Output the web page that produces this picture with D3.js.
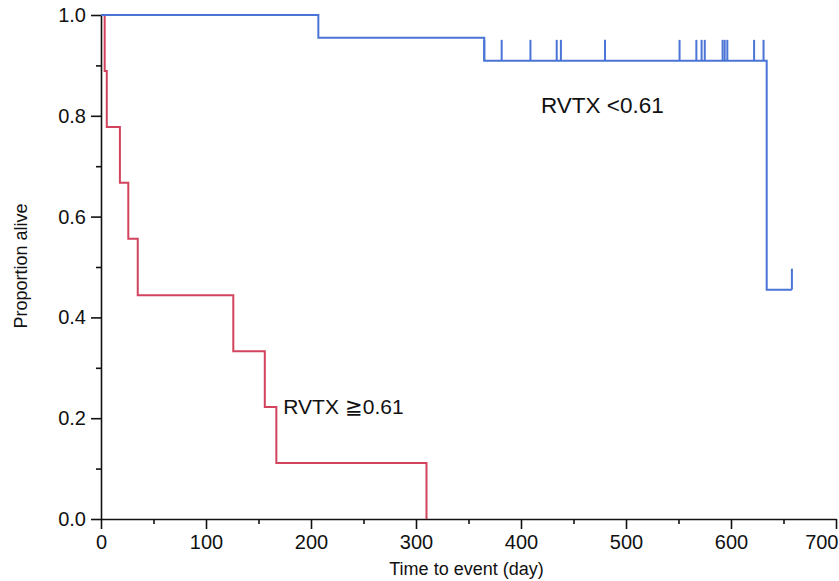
<!DOCTYPE html>
<html>
<head>
<meta charset="utf-8">
<script src="https://cdn.jsdelivr.net/npm/d3@7"></script>
<style>
  body { margin: 0; background: #fff; }
  svg text { font-family: "Liberation Sans", Arial, Helvetica, sans-serif; fill: #111; }
</style>
</head>
<body>
<svg></svg>
<script>
// data
const redTimes = [0, 3.5, 5.5, 18, 26, 35, 126, 156, 167, 310];
const redSurv = [1, 0.889, 0.778, 0.667, 0.556, 0.444, 0.333, 0.222, 0.111, 0];

const blueTimes = [0, 207, 365, 634, 658];
const blueSurv = [1, 0.955, 0.909, 0.455, 0.455];
const blueCensor = [365, 381.6, 409, 434, 438, 480, 551, 567, 572, 575, 592, 594, 596.5, 622, 631];
const blueLastCensor = 658;

const xTicks = [0, 100, 200, 300, 400, 500, 600, 700];
const xMinor = [50, 150, 250, 350, 450, 550, 650];
const yTicks = [0, 0.2, 0.4, 0.6, 0.8, 1.0];
const yMinor = [0.1, 0.3, 0.5, 0.7, 0.9];

const labels = [
  { text: "RVTX <0.61", t: 419, s: 0.806 },
  { text: "RVTX \u22670.61", t: 173.6, s: 0.208 }
];

const width = 839, height = 581;
const mLeft = 101, mRight = 836, mTop = 15, mBottom = 519;

const blue = "#4a74d6";
const red = "#d2435d";

const svg = d3.select("svg").attr("width", width).attr("height", height);

const x = d3.scaleLinear().domain([0, 700]).range([mLeft, mRight]);
const y = d3.scaleLinear().domain([0, 1]).range([mBottom, mTop]);

// minor ticks
svg.append("g")
  .attr("transform", `translate(0,${mBottom})`)
  .call(d3.axisBottom(x).tickValues(xMinor).tickSize(5).tickFormat(""))
  .call(g => g.select(".domain").remove())
  .selectAll("line").attr("stroke", "#111").attr("stroke-width", 1.6);

svg.append("g")
  .attr("transform", `translate(${mLeft},0)`)
  .call(d3.axisLeft(y).tickValues(yMinor).tickSize(5).tickFormat(""))
  .call(g => g.select(".domain").remove())
  .selectAll("line").attr("stroke", "#111").attr("stroke-width", 1.6);

// axes
const xAxis = svg.append("g")
  .attr("transform", `translate(0,${mBottom})`)
  .call(d3.axisBottom(x).tickValues(xTicks).tickSize(10).tickSizeOuter(0).tickPadding(6));
xAxis.selectAll("text").style("font-size", "20px");
// last label sits flush with the right edge
xAxis.selectAll(".tick text")
  .filter(d => d === 700)
  .attr("text-anchor", "end")
  .attr("x", 2);

const yAxis = svg.append("g")
  .attr("transform", `translate(${mLeft},0)`)
  .call(d3.axisLeft(y).tickValues(yTicks).tickSize(10).tickSizeOuter(0).tickPadding(5)
    .tickFormat(d3.format(".1f")));
yAxis.selectAll("text").style("font-size", "20px");

svg.selectAll(".domain, .tick line").attr("stroke", "#111").attr("stroke-width", 1.6);

// axis titles
svg.append("text")
  .attr("x", (mLeft + mRight) / 2 - 2)
  .attr("y", 575)
  .attr("text-anchor", "middle")
  .style("font-size", "18px")
  .text("Time to event (day)");

svg.append("text")
  .attr("transform", `translate(27,${266}) rotate(-90)`)
  .attr("text-anchor", "middle")
  .style("font-size", "18px")
  .text("Proportion alive");

// curves
const step = d3.line()
  .x(d => x(d[0]))
  .y(d => y(d[1]))
  .curve(d3.curveStepAfter);

svg.append("path")
  .datum(redTimes.map((t, i) => [t, redSurv[i]]))
  .attr("d", step)
  .attr("fill", "none")
  .attr("stroke", red)
  .attr("stroke-width", 2);

svg.append("path")
  .datum(blueTimes.map((t, i) => [t, blueSurv[i]]))
  .attr("d", step)
  .attr("fill", "none")
  .attr("stroke", blue)
  .attr("stroke-width", 2);

// censor marks
svg.selectAll(".censor")
  .data(blueCensor)
  .enter()
  .append("line")
  .attr("x1", d => x(d))
  .attr("x2", d => x(d))
  .attr("y1", y(0.909))
  .attr("y2", y(0.909) - 21)
  .attr("stroke", blue)
  .attr("stroke-width", 2);

svg.append("line")
  .attr("x1", x(blueLastCensor))
  .attr("x2", x(blueLastCensor))
  .attr("y1", y(0.455))
  .attr("y2", y(0.455) - 21)
  .attr("stroke", blue)
  .attr("stroke-width", 2);

// group labels
svg.selectAll(".lab")
  .data(labels)
  .enter()
  .append("text")
  .attr("x", d => x(d.t))
  .attr("y", d => y(d.s))
  .style("font-size", (d, i) => i === 0 ? "22.5px" : "21px")
  .text(d => d.text);
</script>
</body>
</html>
